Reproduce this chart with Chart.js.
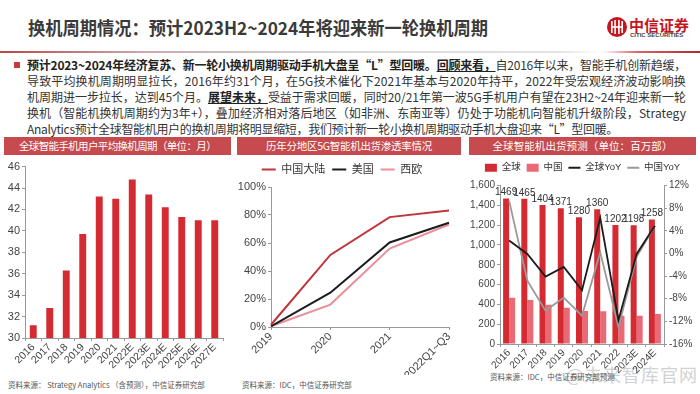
<!DOCTYPE html>
<html>
<head>
<meta charset="utf-8">
<script src="https://cdn.jsdelivr.net/npm/chart.js@4.4.1/dist/chart.umd.min.js"></script>
<style>
  body { margin: 0; width: 700px; height: 394px; position: relative; overflow: hidden; background: #fff;
         font-family: "Noto Sans CJK SC", sans-serif; color: #333; }
  .abs { position: absolute; }
  .fit { white-space: nowrap; display: inline-block; }
  #title { left: 28px; top: 14px; font-size: 18px; font-weight: 700; color: #3a3a3a; transform-origin: 0 50%; }
  #rule { left: 0; top: 51px; width: 700px; height: 2px;
          background: linear-gradient(to right, #b8474b 0%, #c9a7a8 20%, #d8d8d8 50%, #e4e4e4 80%, #fff 86%, #d9666b 91%, #b3262d 100%); }
  #logo { left: 607px; top: 17px; width: 20px; height: 20px; }
  #logoCn { left: 629px; top: 14px; font-size: 15px; font-weight: 700; color: #c3161f; }
  #logoEn { left: 630px; top: 32px; font-size: 6px; font-weight: 700; color: #444; font-family: Arial, "Liberation Sans", sans-serif; }
  #bullet { left: 14px; top: 62px; width: 6px; height: 6px; background: #c6393f; }
  .line { left: 27px; font-size: 12px; line-height: 16px; height: 16px; }
  .b { font-weight: 700; color: #222; }
  .u { font-weight: 700; color: #222; text-decoration: underline; }
  .box { top: 137px; height: 18px; background: #c64a4e; color: #fff; font-size: 10.5px; line-height: 18px; text-align: center; overflow: hidden; }
  .src { font-size: 7.5px; color: #555; white-space: nowrap; }
  #mark { left: 566px; top: 361px; font-size: 18px; color: #d2d2d2; white-space: nowrap; letter-spacing: 1px; }
  canvas { position: absolute; }
</style>
</head>
<body>
<div id="title" class="abs fit">换机周期情况：预计2023H2~2024年将迎来新一轮换机周期</div>
<svg id="logo" class="abs" viewBox="0 0 20 20">
  <circle cx="10" cy="10" r="10" fill="#c3161f"/>
  <rect x="4" y="4" width="1.6" height="12" fill="#fff"/>
  <rect x="7.3" y="3" width="1.6" height="14" fill="#fff"/>
  <rect x="11.1" y="3" width="1.6" height="14" fill="#fff"/>
  <rect x="14.4" y="4" width="1.6" height="12" fill="#fff"/>
  <rect x="5" y="9.2" width="10" height="1.6" fill="#fff"/>
</svg>
<div id="logoCn" class="abs fit">中信证券</div>
<div id="logoEn" class="abs fit">CITIC SECURITIES</div>
<div id="rule" class="abs"></div>

<div id="bullet" class="abs"></div>
<div class="abs line fit" style="top:57px" data-w="659"><span class="b">预计2023~2024年经济复苏、新一轮小换机周期驱动手机大盘呈“L”型回暖。</span><span class="u">回顾来看，</span>自2016年以来，智能手机创新趋缓，</div>
<div class="abs line fit" style="top:73px" data-w="659">导致平均换机周期明显拉长，2016年约31个月，在5G技术催化下2021年基本与2020年持平，2022年受宏观经济波动影响换</div>
<div class="abs line fit" style="top:89px" data-w="659">机周期进一步拉长，达到45个月。<span class="u">展望未来，</span>受益于需求回暖，同时20/21年第一波5G手机用户有望在23H2~24年迎来新一轮</div>
<div class="abs line fit" style="top:105px" data-w="659">换机（智能机换机周期约为3年+），叠加经济相对落后地区（如非洲、东南亚等）仍处于功能机向智能机升级阶段，Strategy</div>
<div class="abs line fit" style="top:121px" data-w="591">Analytics预计全球智能机用户的换机周期将明显缩短，我们预计新一轮小换机周期驱动手机大盘迎来“L”型回暖。</div>

<div class="abs box" style="left:4px;width:227px"><span class="fit" data-w="197">全球智能手机用户平均换机周期（单位：月）</span></div>
<div class="abs box" style="left:237px;width:224px"><span class="fit" data-w="166">历年分地区5G智能机出货渗透率情况</span></div>
<div class="abs box" style="left:469px;width:227px"><span class="fit" data-w="180">全球智能机出货预测（单位：百万部）</span></div>

<div id="mark" class="abs">@未来智库官网</div>
<div class="abs src" style="left:8px;top:379px">资料来源： Strategy Analytics （含预测），中信证券研究部</div>
<div class="abs src" style="left:242px;top:379px">资料来源：IDC，中信证券研究部</div>
<div class="abs src" style="left:490px;top:371px">资料来源：IDC，中信证券研究部预测</div>

<canvas id="cycleChart" width="232" height="214" style="left:0;top:158px"></canvas>
<canvas id="penChart" width="230" height="218" style="left:235px;top:157px"></canvas>
<canvas id="shipChart" width="235" height="221" style="left:465px;top:157px"></canvas>

<script>
// 全球智能手机用户平均换机周期（月）
const cycleYears = ["2016", "2017", "2018", "2019", "2020", "2021", "2022E", "2023E", "2024E", "2025E", "2026E", "2027E"];
const cycleMonths = [31.2, 32.8, 36.3, 39.7, 43.2, 43.0, 44.8, 43.4, 42.2, 41.3, 41.0, 41.0];

// 5G 智能机出货渗透率（%）
const penYears = ["2019", "2020", "2021", "2022Q1~Q3"];
const penChina = [1.6, 51.5, 78.5, 83.2];
const penUS = [0.5, 24.5, 60.4, 74.5];
const penEurope = [0.5, 16, 56, 73.2];

// 全球智能机出货（百万部）与同比（%）
const shipYears = ["2016", "2017", "2018", "2019", "2020", "2021", "2022", "2023E", "2024E"];
const shipGlobal = [1469, 1465, 1404, 1371, 1280, 1360, 1202, 1198, 1258];
const shipChina = [467, 443, 397, 367, 334, 331, 285, 285, 303];
const yoyGlobal = [2.3, -0.1, -4.1, -2.4, -6.5, 6.3, -11.8, -0.1, 4.9];
const yoyChina = [9.3, -4.8, -10.1, -7.8, -11.0, 0.2, -13.0, -0.6, 4.9];

// squeeze text lines to the width they take on the slide
document.querySelectorAll("[data-w]").forEach(el => {
    const target = +el.dataset.w;
    const w = el.getBoundingClientRect().width;
    el.style.letterSpacing = ((target - w) / el.textContent.length) + "px";
});
const title = document.getElementById("title");
title.style.transform = "scaleX(" + (460 / title.getBoundingClientRect().width) + ")";

Chart.defaults.font.family = 'Arial, "Liberation Sans", "Noto Sans CJK SC", sans-serif';
Chart.defaults.color = "#444";
Chart.defaults.animation = false;

function axis(size, tick) {
    return {
        grid: { drawOnChartArea: false, tickLength: tick, color: "#999" },
        border: { color: "#999" },
        ticks: { color: "#444", font: { size: size }, padding: 2 }
    };
}

function xAxis(size, height) {
    const a = axis(size, 3);
    a.ticks.maxRotation = 45;
    a.ticks.minRotation = 45;
    a.ticks.autoSkip = false;
    a.ticks.padding = 0;
    a.afterFit = s => { s.height = height; };
    return a;
}

// extra room under the legend
function legendGap(extra) {
    return {
        id: "legendGap",
        beforeLayout(chart) {
            const legend = chart.legend;
            if (!legend || legend._gap) return;
            legend._gap = true;
            const fit = legend.fit;
            legend.fit = function () { fit.call(this); this.height += extra; };
        }
    };
}

const barValues = {
    id: "barValues",
    afterDatasetsDraw(chart) {
        const ctx = chart.ctx;
        const meta = chart.getDatasetMeta(0);
        ctx.save();
        ctx.font = '10px Arial, "Liberation Sans", sans-serif';
        ctx.fillStyle = "#333";
        ctx.textAlign = "center";
        ctx.textBaseline = "bottom";
        meta.data.forEach((bar, i) => {
            ctx.fillText(shipGlobal[i], bar.x, bar.y - 1);
        });
        ctx.restore();
    }
};

// chart 1
const cycleY = axis(11, 3);
cycleY.min = 30;
cycleY.max = 46;
cycleY.ticks.stepSize = 2;
cycleY.afterFit = s => { s.width = 25; };

new Chart(document.getElementById("cycleChart"), {
    type: "bar",
    data: {
        labels: cycleYears,
        datasets: [{
            data: cycleMonths,
            backgroundColor: "#d42b32",
            categoryPercentage: 1,
            barPercentage: 0.42
        }]
    },
    options: {
        responsive: false,
        layout: { padding: { top: 8, right: 9, left: 0, bottom: 0 } },
        plugins: { legend: { display: false }, tooltip: { enabled: false } },
        scales: {
            x: xAxis(10.5, 34),
            y: cycleY
        }
    }
});

// chart 2
const penX = xAxis(11, 48);
penX.offset = false;
const penY = axis(11, 3);
penY.min = 0;
penY.max = 100;
penY.ticks.stepSize = 20;
penY.ticks.callback = v => v + "%";
penY.afterFit = s => { s.width = 36; };

new Chart(document.getElementById("penChart"), {
    type: "line",
    data: {
        labels: penYears,
        datasets: [
            { label: "中国大陆", data: penChina, borderColor: "#c0343c", borderWidth: 2 },
            { label: "美国", data: penUS, borderColor: "#1c1c1c", borderWidth: 2 },
            { label: "西欧", data: penEurope, borderColor: "#ea8f9b", borderWidth: 2 }
        ]
    },
    options: {
        responsive: false,
        elements: { point: { radius: 0 }, line: { tension: 0 } },
        layout: { padding: { top: 0, right: 16, left: 0, bottom: 0 } },
        plugins: {
            legend: {
                labels: {
                    usePointStyle: true,
                    pointStyle: "line",
                    pointStyleWidth: 14,
                    padding: 7,
                    color: "#333",
                    font: { size: 11 }
                }
            },
            tooltip: { enabled: false }
        },
        scales: { x: penX, y: penY }
    },
    plugins: [legendGap(2)]
});

// chart 3
const shipY = axis(10, 3);
shipY.min = 0;
shipY.max = 1600;
shipY.ticks.stepSize = 200;
shipY.afterFit = s => { s.width = 35; };

const shipY1 = axis(10, 3);
shipY1.position = "right";
shipY1.min = -16;
shipY1.max = 12;
shipY1.ticks.stepSize = 4;
shipY1.ticks.callback = v => v + "%";
shipY1.afterFit = s => { s.width = 36; };

new Chart(document.getElementById("shipChart"), {
    data: {
        labels: shipYears,
        datasets: [
            { type: "bar", label: "全球", data: shipGlobal, backgroundColor: "#d42b32", order: 2,
              categoryPercentage: 0.66, barPercentage: 1 },
            { type: "bar", label: "中国", data: shipChina, backgroundColor: "#e96a75", order: 3,
              categoryPercentage: 0.66, barPercentage: 1 },
            { type: "line", label: "全球YoY", data: yoyGlobal, yAxisID: "y1", borderColor: "#1c1c1c",
              borderWidth: 1.8, order: 0 },
            { type: "line", label: "中国YoY", data: yoyChina, yAxisID: "y1", borderColor: "#9a9a9a",
              borderWidth: 1.8, order: 1 }
        ]
    },
    options: {
        responsive: false,
        elements: { point: { radius: 0 }, line: { tension: 0 } },
        layout: { padding: { top: 0, right: 0, left: 0, bottom: 0 } },
        plugins: {
            legend: {
                labels: {
                    usePointStyle: true,
                    pointStyleWidth: 12,
                    boxHeight: 8,
                    padding: 6,
                    color: "#333",
                    font: { size: 9.5 },
                    sort: (a, b) => a.datasetIndex - b.datasetIndex,
                    generateLabels: chart => {
                        const items = Chart.defaults.plugins.legend.labels.generateLabels(chart);
                        items.forEach(item => {
                            const ds = chart.data.datasets[item.datasetIndex];
                            if (ds.type === "line") {
                                item.pointStyle = "line";
                                item.strokeStyle = ds.borderColor;
                                item.lineWidth = 2;
                            } else {
                                item.pointStyle = "rect";
                                item.lineWidth = 0;
                            }
                        });
                        return items;
                    }
                }
            },
            tooltip: { enabled: false }
        },
        scales: { x: xAxis(10, 34), y: shipY, y1: shipY1 }
    },
    plugins: [barValues, legendGap(3)]
});
</script>
</body>
</html>
